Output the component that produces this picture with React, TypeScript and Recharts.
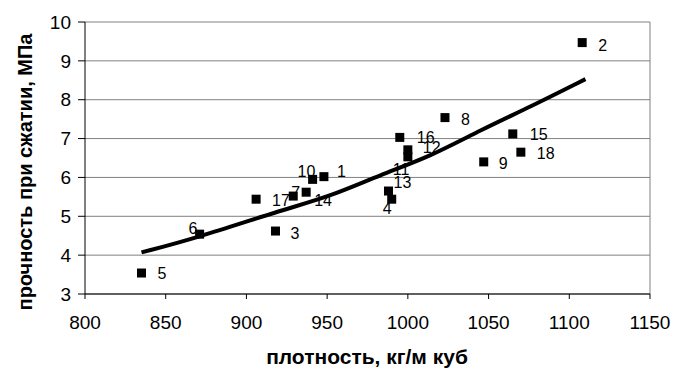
import React from 'react';
import {
  ComposedChart,
  Scatter,
  Line,
  XAxis,
  YAxis,
  CartesianGrid,
  ReferenceLine,
  LabelList,
  Label,
} from 'recharts';

// measured samples: density (kg/m3) vs compressive strength (MPa)
const sampleIds = [1, 2, 3, 4, 5, 6, 7, 8, 9, 10, 11, 12, 13, 14, 15, 16, 17, 18];
const density = [948, 1108, 918, 990, 835, 871, 929, 1023, 1047, 941, 1000, 1000, 988, 937, 1065, 995, 906, 1070];
const strength = [6.02, 9.47, 4.62, 5.44, 3.54, 4.54, 5.52, 7.54, 6.4, 5.95, 6.53, 6.71, 5.65, 5.62, 7.12, 7.03, 5.44, 6.65];

// trend line
const trendX = [835, 869, 921, 952, 983, 1014, 1045, 1076, 1110];
const trendY = [4.07, 4.44, 5.15, 5.51, 6.07, 6.54, 7.22, 7.82, 8.53];

const xTicks = [800, 850, 900, 950, 1000, 1050, 1100, 1150];
const yTicks = [3, 4, 5, 6, 7, 8, 9, 10];

// label placement (left edge dx, vertical dy) per sample id
const labelOffset: Record<number, [number, number]> = {
  1: [13, -5], 2: [16, 3], 3: [15, 2], 4: [-9, 9], 5: [16, 0], 6: [-11, -6],
  7: [-2, -4], 8: [16, 2], 9: [15, 2], 10: [-15, -8], 11: [-15, 13], 12: [15, -2],
  13: [5, -9], 14: [8, 8], 15: [17, 1], 16: [17, 0], 17: [16, 1], 18: [16, 1],
};

const points = sampleIds.map((id, i) => ({ id, x: density[i], y: strength[i] }));
const trend = trendX.map((x, i) => ({ x, y: trendY[i] }));

const FONT = '"Liberation Sans", Arial, sans-serif';

const Square = (props: any) => {
  const { cx, cy } = props;
  return <rect x={cx - 4.5} y={cy - 4.5} width={9} height={9} fill="#000" />;
};

const PointLabel = (props: any) => {
  const { x, y, width, height, value } = props;
  const cx = x + width / 2;
  const cy = y + height / 2;
  const [dx, dy] = labelOffset[value] || [16, 0];
  return (
    <text x={cx + dx} y={cy + dy} dominantBaseline="central" fontSize={16} fontFamily={FONT} fill="#000">
      {value}
    </text>
  );
};

export default function App() {
  return (
    <div style={{ position: 'absolute', left: 0, top: 0, background: '#fff' }}>
      <ComposedChart width={674} height={369} margin={{ top: 22, right: 24, left: 0, bottom: 0 }}>
        <CartesianGrid horizontal vertical={false} stroke="#808080" />
        <XAxis
          dataKey="x"
          type="number"
          domain={[800, 1150]}
          ticks={xTicks}
          allowDataOverflow
          height={75}
          stroke="#000"
          tickSize={5}
          tick={{ fill: '#000', fontSize: 19, fontFamily: FONT, dy: 15 }}
        >
          <Label
            content={() => (
              <text x={367} y={356} textAnchor="middle" dominantBaseline="central" fontSize={21} fontWeight="bold" fontFamily={FONT} fill="#000">
                плотность, кг/м куб
              </text>
            )}
          />
        </XAxis>
        <YAxis
          dataKey="y"
          type="number"
          domain={[3, 10]}
          ticks={yTicks}
          allowDataOverflow
          width={85}
          stroke="#000"
          tickSize={7}
          tick={{ fill: '#000', fontSize: 19, fontFamily: FONT, dx: -5 }}
        >
          <Label
            content={() => (
              <text x={25} y={172} transform="rotate(-90 25 172)" textAnchor="middle" dominantBaseline="central" fontSize={20} fontWeight="bold" fontFamily={FONT} fill="#000">
                прочность при сжатии, МПа
              </text>
            )}
          />
        </YAxis>
        <ReferenceLine x={1150} stroke="#808080" />
        <Line
          data={trend}
          dataKey="y"
          type="basis"
          stroke="#000"
          strokeWidth={4}
          dot={false}
          activeDot={false}
          isAnimationActive={false}
        />
        <Scatter data={points} shape={<Square />} isAnimationActive={false}>
          <LabelList dataKey="id" content={<PointLabel />} />
        </Scatter>
      </ComposedChart>
    </div>
  );
}
